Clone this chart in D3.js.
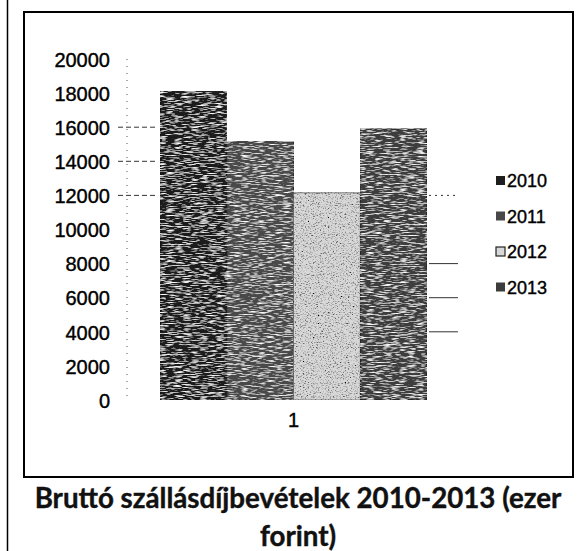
<!DOCTYPE html>
<html><head><meta charset="utf-8">
<script src="https://cdn.jsdelivr.net/npm/d3@7"></script>
<style>body{margin:0;background:#fff}svg{display:block}</style>
</head><body>
<svg id="c" width="587" height="551"></svg>
<script>
const categories = ["1"];
const years = ["2010", "2011", "2012", "2013"];
const values2010 = [18100];
const values2011 = [15150];
const values2012 = [12150];
const values2013 = [15900];
const yTicks = [0, 2000, 4000, 6000, 8000, 10000, 12000, 14000, 16000, 18000, 20000];
const leftGridTicks = [12000, 14000, 16000];
const rightGridTicks = [4000, 6000, 8000, 12000];
const titleLines = ["Bruttó szállásdíjbevételek 2010-2013 (ezer", "forint)"];
const seriesValues = [values2010, values2011, values2012, values2013];
const colors = ["#1e1e1e", "#484848", "#d8d8d8", "#3c3c3c"];

const svg = d3.select("#c");
const defs = svg.append("defs");
const f = defs.append("filter").attr("id", "grain").attr("x", 0).attr("y", 0).attr("width", 1).attr("height", 1);
f.append("feTurbulence").attr("type", "fractalNoise").attr("baseFrequency", "0.12 1.1").attr("numOctaves", 2).attr("seed", 3).attr("result", "n");
f.append("feColorMatrix").attr("in", "n").attr("type", "matrix")
  .attr("values", "0 0 0 0 1  0 0 0 0 1  0 0 0 0 1  3 0 0 0 -1.45").attr("result", "specks");
f.append("feComposite").attr("in", "specks").attr("in2", "SourceGraphic").attr("operator", "in").attr("result", "sp2");
f.append("feMerge").call(m => { m.append("feMergeNode").attr("in", "SourceGraphic"); m.append("feMergeNode").attr("in", "sp2"); });

const f2 = defs.append("filter").attr("id", "grainDark").attr("x", 0).attr("y", 0).attr("width", 1).attr("height", 1);
f2.append("feTurbulence").attr("type", "fractalNoise").attr("baseFrequency", "0.6 0.9").attr("numOctaves", 2).attr("seed", 7).attr("result", "n");
f2.append("feColorMatrix").attr("in", "n").attr("type", "matrix")
  .attr("values", "0 0 0 0 0  0 0 0 0 0  0 0 0 0 0  3 0 0 0 -1.5").attr("result", "specks");
f2.append("feComposite").attr("in", "specks").attr("in2", "SourceGraphic").attr("operator", "in").attr("result", "sp2");
f2.append("feMerge").call(m => { m.append("feMergeNode").attr("in", "SourceGraphic"); m.append("feMergeNode").attr("in", "sp2"); });

svg.append("rect").attr("width", 587).attr("height", 551).attr("fill", "#fff");
// scan frame
svg.append("line").attr("x1", 7.5).attr("x2", 7.5).attr("y1", 0).attr("y2", 551).attr("stroke", "#000").attr("stroke-width", 1.5);
svg.append("rect").attr("x", 24).attr("y", 12).attr("width", 549).attr("height", 465)
  .attr("fill", "none").attr("stroke", "#000").attr("stroke-width", 2);

const y = d3.scaleLinear().domain([0, 20000]).range([400, 59]);
const x0 = d3.scaleBand().domain(categories).range([160, 427]).padding(0);
const x1 = d3.scaleBand().domain(years).range([0, x0.bandwidth()]).padding(0);

// faint gridline fragments
svg.append("g").selectAll("line").data(leftGridTicks).join("line")
  .attr("x1", 118).attr("x2", 158).attr("y1", d => y(d)).attr("y2", d => y(d))
  .attr("stroke", "#333").attr("stroke-width", 1).attr("stroke-dasharray", "5,3");
svg.append("g").selectAll("line").data(rightGridTicks).join("line")
  .attr("x1", 429).attr("x2", 458).attr("y1", d => y(d)).attr("y2", d => y(d))
  .attr("stroke", "#333").attr("stroke-width", 1).attr("stroke-dasharray", d => d === 12000 ? "2,4" : null);

// y axis
const yAxis = d3.axisLeft(y).tickValues(yTicks).tickSize(0).tickPadding(0).tickFormat(d3.format("d"));
const ga = svg.append("g").attr("transform", "translate(110,0)").call(yAxis);
ga.select(".domain").remove();
ga.selectAll("text").attr("font-family", "Liberation Sans, Arial, sans-serif").attr("font-size", 20)
  .attr("fill", "#000").attr("stroke", "#000").attr("stroke-width", 0.4).attr("dy", "0.36em");
svg.append("line").attr("x1", 127).attr("x2", 127).attr("y1", y(20000)).attr("y2", y(0))
  .attr("stroke", "#555").attr("stroke-width", 1).attr("stroke-dasharray", "1,6");

// bars
const g = svg.append("g");
categories.forEach((c, ci) => {
  years.forEach((yr, si) => {
    const v = seriesValues[si][ci];
    g.append("rect")
      .attr("x", x0(c) + x1(yr))
      .attr("y", y(v))
      .attr("width", x1.bandwidth())
      .attr("height", y(0) - y(v))
      .attr("fill", colors[si])
      .attr("filter", si === 2 ? "url(#grainDark)" : "url(#grain)")
      .attr("stroke", si === 2 ? "#666" : "#111").attr("stroke-width", 0.8);
  });
});

// x axis label
const xAxis = d3.axisBottom(x0).tickSize(0).tickPadding(0);
const gx = svg.append("g").attr("transform", "translate(0,413)").call(xAxis);
gx.select(".domain").remove();
gx.selectAll("text").attr("font-family", "Liberation Sans, Arial, sans-serif").attr("font-size", 20)
  .attr("fill", "#000").attr("stroke", "#000").attr("stroke-width", 0.4);

// legend
const lg = svg.append("g");
years.forEach((yr, i) => {
  const ly = 181 + i * 35.5;
  lg.append("rect").attr("x", 496).attr("y", ly - 5).attr("width", 9).attr("height", 9)
    .attr("fill", colors[i]).attr("stroke", i === 2 ? "#222" : "none").attr("stroke-width", 1.2);
  lg.append("text").attr("x", 507).attr("y", ly).attr("dy", "0.36em")
    .attr("font-family", "Liberation Sans, Arial, sans-serif").attr("font-size", 18)
    .attr("fill", "#000").attr("stroke", "#000").attr("stroke-width", 0.4).text(yr);
});

// title
const tl = svg.append("g");
titleLines.forEach((t, i) => {
  tl.append("text").attr("x", 298).attr("y", 508 + i * 38).attr("text-anchor", "middle")
    .attr("font-family", "Lato, 'Open Sans', sans-serif").attr("font-weight", "bold")
    .attr("font-size", 24).attr("fill", "#111").attr("stroke", "#111").attr("stroke-width", 0.4).text(t);
});
// fit first line to the reference width
const first = tl.select("text").node();
const w = first.getComputedTextLength();
const fs = 24 * 527 / w;
tl.selectAll("text").attr("font-size", fs);
</script>
</body></html>
